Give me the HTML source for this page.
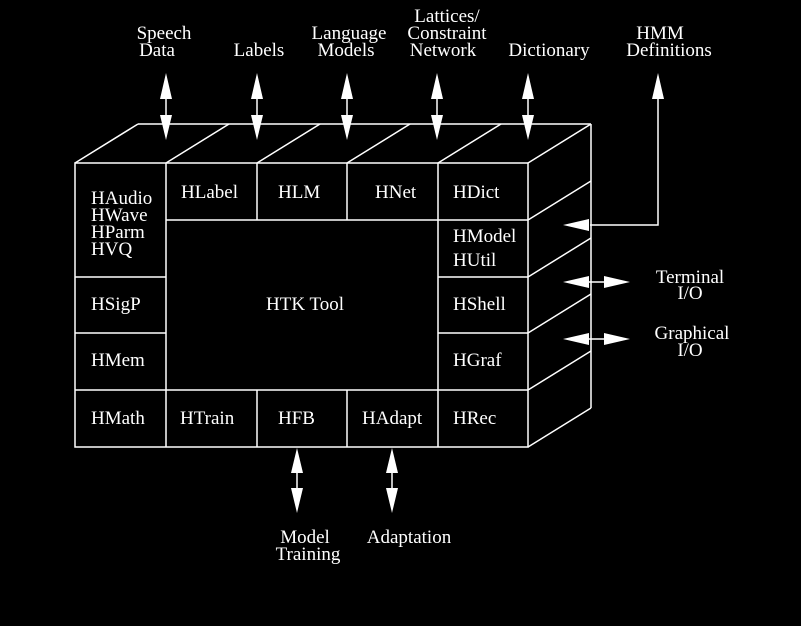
<!DOCTYPE html>
<html><head><meta charset="utf-8"><style>
html,body{margin:0;padding:0;background:#000;}
svg{display:block;}
text{font-family:"Liberation Serif",serif;font-size:19px;fill:#fff;}
</style></head><body>
<svg width="801" height="626" viewBox="0 0 801 626" xmlns="http://www.w3.org/2000/svg">
<g stroke="#fff" stroke-width="1.5" fill="none">
<rect x="75" y="163" width="453" height="284"/>
<line x1="166" y1="163" x2="166" y2="447"/>
<line x1="257" y1="163" x2="257" y2="220"/>
<line x1="347" y1="163" x2="347" y2="220"/>
<line x1="257" y1="390" x2="257" y2="447"/>
<line x1="347" y1="390" x2="347" y2="447"/>
<line x1="438" y1="163" x2="438" y2="447"/>
<line x1="166" y1="220" x2="528" y2="220"/>
<line x1="438" y1="277" x2="528" y2="277"/>
<line x1="75" y1="277" x2="166" y2="277"/>
<line x1="75" y1="333" x2="166" y2="333"/>
<line x1="438" y1="333" x2="528" y2="333"/>
<line x1="75" y1="390" x2="528" y2="390"/>
<line x1="138" y1="124" x2="591" y2="124"/>
<line x1="75" y1="163" x2="138" y2="124"/>
<line x1="166" y1="163" x2="229" y2="124"/>
<line x1="257" y1="163" x2="320" y2="124"/>
<line x1="347" y1="163" x2="410" y2="124"/>
<line x1="438" y1="163" x2="501" y2="124"/>
<line x1="528" y1="163" x2="591" y2="124"/>
<line x1="591" y1="124" x2="591" y2="408"/>
<line x1="528" y1="220" x2="591" y2="181"/>
<line x1="528" y1="277" x2="591" y2="238"/>
<line x1="528" y1="333" x2="591" y2="294"/>
<line x1="528" y1="390" x2="591" y2="351"/>
<line x1="528" y1="447" x2="591" y2="408"/>
<line x1="166" y1="95" x2="166" y2="120"/>
<line x1="257" y1="95" x2="257" y2="120"/>
<line x1="347" y1="95" x2="347" y2="120"/>
<line x1="437" y1="95" x2="437" y2="120"/>
<line x1="528" y1="95" x2="528" y2="120"/>
<polyline points="658,95 658,225 590,225"/>
<line x1="588" y1="282" x2="606" y2="282"/>
<line x1="588" y1="339" x2="606" y2="339"/>
<line x1="297" y1="470" x2="297" y2="492"/>
<line x1="392" y1="470" x2="392" y2="492"/>
</g>
<g fill="#fff">
<polygon points="166,73 160,99 172,99"/><polygon points="166,140 160,115 172,115"/>
<polygon points="257,73 251,99 263,99"/><polygon points="257,140 251,115 263,115"/>
<polygon points="347,73 341,99 353,99"/><polygon points="347,140 341,115 353,115"/>
<polygon points="437,73 431,99 443,99"/><polygon points="437,140 431,115 443,115"/>
<polygon points="528,73 522,99 534,99"/><polygon points="528,140 522,115 534,115"/>
<polygon points="658,73 652,99 664,99"/>
<polygon points="563,225 589,219 589,231"/>
<polygon points="563,282 589,276 589,288"/><polygon points="630,282 604,276 604,288"/>
<polygon points="563,339 589,333 589,345"/><polygon points="630,339 604,333 604,345"/>
<polygon points="297,448 291,473 303,473"/><polygon points="297,513 291,488 303,488"/>
<polygon points="392,448 386,473 398,473"/><polygon points="392,513 386,488 398,488"/>
</g>
<text x="164" y="39" text-anchor="middle">Speech</text>
<text x="157" y="56" text-anchor="middle">Data</text>
<text x="259" y="56" text-anchor="middle">Labels</text>
<text x="349" y="39" text-anchor="middle">Language</text>
<text x="346" y="56" text-anchor="middle">Models</text>
<text x="447" y="22" text-anchor="middle">Lattices/</text>
<text x="447" y="39" text-anchor="middle">Constraint</text>
<text x="443" y="56" text-anchor="middle">Network</text>
<text x="549" y="56" text-anchor="middle">Dictionary</text>
<text x="660" y="39" text-anchor="middle">HMM</text>
<text x="669" y="56" text-anchor="middle">Definitions</text>
<text x="690" y="283" text-anchor="middle">Terminal</text>
<text x="690" y="299" text-anchor="middle">I/O</text>
<text x="692" y="339" text-anchor="middle">Graphical</text>
<text x="690" y="356" text-anchor="middle">I/O</text>
<text x="305" y="543" text-anchor="middle">Model</text>
<text x="308" y="560" text-anchor="middle">Training</text>
<text x="409" y="543" text-anchor="middle">Adaptation</text>
<text x="91" y="204">HAudio</text>
<text x="91" y="221">HWave</text>
<text x="91" y="238">HParm</text>
<text x="91" y="255">HVQ</text>
<text x="181" y="198">HLabel</text>
<text x="278" y="198">HLM</text>
<text x="375" y="198">HNet</text>
<text x="453" y="198">HDict</text>
<text x="453" y="242">HModel</text>
<text x="453" y="266">HUtil</text>
<text x="91" y="310">HSigP</text>
<text x="266" y="310">HTK Tool</text>
<text x="453" y="310">HShell</text>
<text x="91" y="366">HMem</text>
<text x="453" y="366">HGraf</text>
<text x="91" y="424">HMath</text>
<text x="180" y="424">HTrain</text>
<text x="278" y="424">HFB</text>
<text x="362" y="424">HAdapt</text>
<text x="453" y="424">HRec</text>
</svg>
</body></html>
